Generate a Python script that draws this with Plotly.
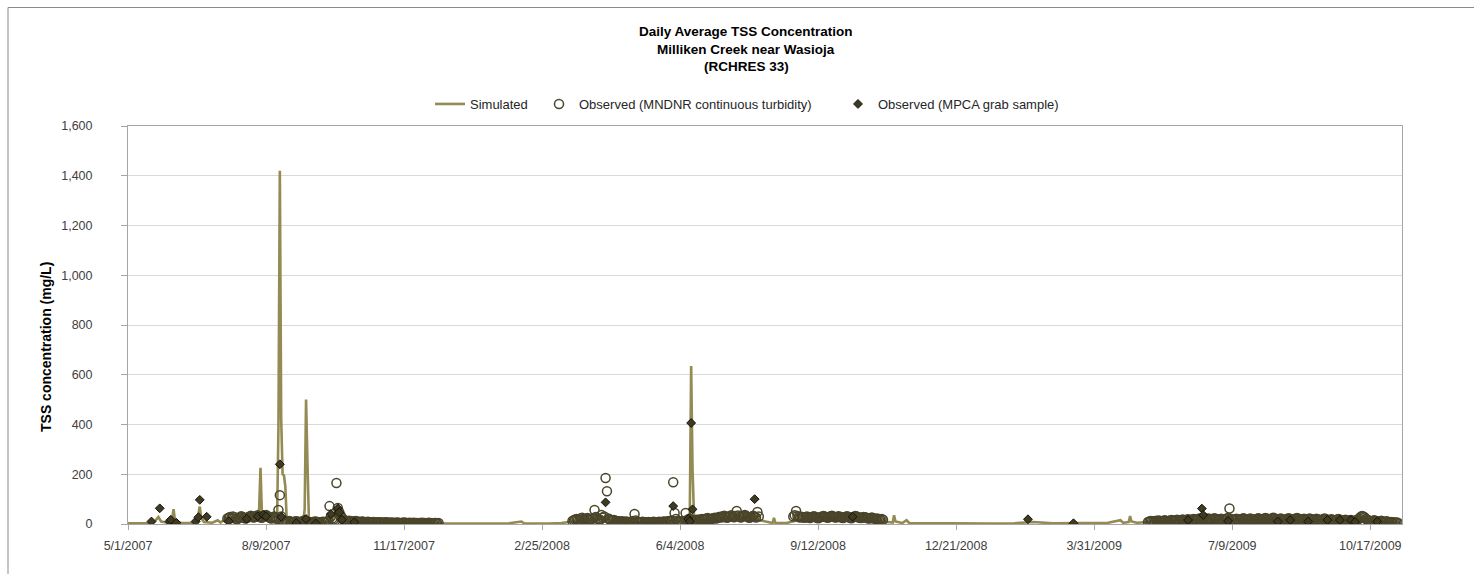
import plotly.graph_objects as go
import pandas as pd

# ---------------- data ----------------
sim_dates = [
    "2007-05-01", "2007-05-10", "2007-05-15", "2007-05-20", "2007-05-23", "2007-05-25", "2007-05-30",
    "2007-06-02", "2007-06-03", "2007-06-04", "2007-06-08", "2007-06-15", "2007-06-20", "2007-06-22",
    "2007-06-23", "2007-06-25", "2007-07-01", "2007-07-05", "2007-07-07", "2007-07-10", "2007-07-15",
    "2007-07-20", "2007-07-25", "2007-07-30", "2007-08-03", "2007-08-04", "2007-08-05", "2007-08-06",
    "2007-08-07", "2007-08-12", "2007-08-17", "2007-08-18", "2007-08-19", "2007-08-20", "2007-08-21",
    "2007-08-22", "2007-08-23", "2007-08-24", "2007-08-28", "2007-09-01", "2007-09-05", "2007-09-06",
    "2007-09-07", "2007-09-08", "2007-09-09", "2007-09-10", "2007-09-20", "2007-09-26", "2007-09-28",
    "2007-09-30", "2007-10-05", "2007-10-15", "2007-11-01", "2007-12-01", "2007-12-20",
    "2008-01-15", "2008-02-01", "2008-02-10", "2008-02-12", "2008-03-01", "2008-03-10", "2008-03-18",
    "2008-04-01", "2008-04-11", "2008-04-20", "2008-05-15", "2008-05-30", "2008-06-05", "2008-06-10",
    "2008-06-11", "2008-06-12", "2008-06-13", "2008-06-14", "2008-06-15", "2008-06-25", "2008-07-10",
    "2008-07-25", "2008-08-05", "2008-08-10", "2008-08-11", "2008-08-12", "2008-08-20", "2008-09-01",
    "2008-09-15", "2008-10-01", "2008-10-20", "2008-10-30", "2008-11-05", "2008-11-06", "2008-11-07",
    "2008-11-12", "2008-11-15", "2008-11-17", "2008-12-01", "2008-12-21",
    "2009-01-15", "2009-02-01", "2009-02-15", "2009-03-01", "2009-03-20", "2009-04-10", "2009-04-19",
    "2009-04-21", "2009-04-25", "2009-04-26", "2009-04-27", "2009-05-01", "2009-05-09", "2009-06-01",
    "2009-07-01", "2009-08-01", "2009-09-01", "2009-10-01", "2009-10-12", "2009-10-20", "2009-11-06",
]
sim_values = [
    3, 4, 3, 8, 28, 10, 5,
    20, 60, 15, 5, 4, 10, 70,
    25, 8, 5, 15, 6, 18, 25,
    30, 28, 35, 30, 60, 226, 40,
    20, 15, 10, 390, 1420, 420, 200,
    195, 150, 15, 8, 6, 8, 60,
    500, 250, 30, 8, 6, 10, 40,
    25, 10, 6, 4, 3, 2,
    2, 3, 10, 3, 2, 4, 10,
    12, 25, 6, 5, 15, 8, 15,
    30, 635, 220, 40, 12, 15, 20,
    25, 10, 4, 25, 5, 4, 20,
    25, 22, 15, 8, 6, 35, 10,
    4, 15, 4, 3, 2,
    2, 3, 8, 3, 4, 5, 15,
    5, 8, 32, 10, 5, 8, 12,
    15, 18, 14, 12, 25, 10, 5,
]

# MNDNR continuous turbidity (daily), four deployment periods
cont_start_2007 = "2007-07-12"
cont_values_2007 = [
    22, 25, 28, 24, 30, 27, 21, 19, 23, 26, 31, 28, 25, 22, 24, 27, 29, 33, 30, 26,
    28, 31, 35, 30, 27, 25, 29, 33, 36, 32, 28, 24, 22, 26, 30, 25, 20,
    56, 116,
    30, 14, 11, 9, 8, 10, 12, 9, 7, 8, 10, 11,
    9, 8, 7, 10, 12, 15, 11, 9, 8, 7, 6, 8, 9, 10, 8, 7, 6, 7, 9, 8, 7, 10, 12,
    72, 30, 22, 18, 14, 165, 64, 48, 35,
    25, 18, 14, 12, 11, 13, 12, 10, 9, 11, 12, 10, 9, 8, 9, 10, 8, 7, 8, 9, 7, 6, 7, 8, 7, 6, 6, 7, 6,
    6, 5, 6, 7, 6, 5, 5, 6, 5, 4, 5, 6, 5, 4, 4, 5, 6, 5, 4, 4, 5, 4, 4, 5, 4, 4, 3, 4, 4, 5,
    4, 4, 3, 4, 5, 4, 3, 3, 4, 4, 3, 4,
]
cont_start_2008a = "2008-03-18"
cont_values_2008a = [
    12, 15, 18, 20, 16, 14, 22, 25, 19, 17, 21, 24, 18, 16,
    20, 24, 56, 28, 22, 19, 17, 36, 25, 30, 185, 132, 22, 18, 15, 14, 16, 13, 12, 11,
    10, 9, 11, 8, 9, 10, 8, 7, 9, 8,
    12, 40, 14, 9, 8, 7, 8, 9, 7, 6, 7, 8, 6, 7, 8, 9, 7, 6, 8, 9, 7, 8, 10, 9, 8, 11, 12, 10,
    14, 168, 44, 20, 12, 10, 9, 11, 10, 12, 44, 15, 18, 22, 16, 12, 14,
    15, 17, 14, 18, 16, 20, 19, 17, 22, 24, 20, 18, 21, 23, 25, 22,
    24, 28, 26, 30, 27, 33, 29, 25, 28, 31, 35, 30, 27, 32, 52, 34, 29, 26, 30, 33, 36, 31, 28, 25,
    27, 30, 33, 29, 26, 48, 30,
]
cont_start_2008b = "2008-08-25"
cont_values_2008b = [
    30, 35, 52, 32, 28, 26, 29,
    27, 25, 28, 30, 26, 24, 27, 29, 31, 28, 25, 23, 26, 28, 30, 32, 29, 27, 25, 28, 31, 33, 30, 27,
    26, 29, 31, 28, 26, 24,
    27, 29, 31, 28, 25, 23, 26, 29, 32, 30, 27, 25, 24, 26, 28, 27, 25, 23, 22, 24, 26, 23, 21, 20,
    22, 19, 18, 20, 17,
]
cont_start_2009 = "2009-05-09"
cont_values_2009 = [
    8, 10, 12, 11, 9, 10, 13, 12, 14, 11, 10, 12, 15, 13, 11, 12, 14, 16, 13, 12, 15, 17, 14,
    13, 15, 18, 16, 14, 17, 19, 16, 15, 18, 20, 17, 16, 19, 22, 20, 18, 21, 24, 20, 18, 22, 19, 17,
    20, 23, 21, 18, 16, 19,
    21, 18, 16, 19, 22, 24, 62, 20, 17, 15, 18, 21, 19, 16, 18, 20, 23, 21, 18, 16, 19, 22, 20, 17,
    15, 18, 21, 23, 20, 17, 19,
    21, 24, 22, 19, 17, 20, 23, 25, 21, 18, 16, 19, 22, 20, 17, 15, 18, 21, 23, 20, 18, 16, 19, 22,
    24, 21, 18, 16, 19, 21, 18,
    16, 19, 22, 20, 17, 15, 18, 21, 19, 16, 14, 17, 20, 22, 19, 16, 14, 17, 19, 16, 13, 15, 18, 20,
    17, 14, 12, 15, 17, 14,
    12, 14, 16, 13, 11, 13, 15, 18, 22, 28, 32, 30, 26, 20, 16, 14, 12, 10, 13, 15, 12, 10, 9, 11,
    13, 10, 8, 9, 11, 8, 7,
    8, 6, 7, 5, 6, 5,
]

# MPCA grab samples
grab_dates = [
    "2007-05-18", "2007-05-24", "2007-05-31", "2007-06-01", "2007-06-05", "2007-06-19", "2007-06-22",
    "2007-06-21", "2007-06-27", "2007-07-13", "2007-07-26", "2007-08-03", "2007-08-07", "2007-08-09",
    "2007-08-19", "2007-08-20", "2007-08-31", "2007-09-07", "2007-09-14", "2007-09-25", "2007-09-30",
    "2007-10-01", "2007-10-03", "2007-10-12",
    "2008-04-11", "2008-05-30", "2008-06-10", "2008-06-11", "2008-06-12", "2008-06-13", "2008-07-28",
    "2008-10-07",
    "2009-02-11", "2009-03-16", "2009-06-07", "2009-06-17", "2009-06-18", "2009-07-06", "2009-08-11",
    "2009-08-20", "2009-09-02", "2009-09-16", "2009-09-25", "2009-10-03", "2009-10-06", "2009-10-22",
]
grab_values = [
    10, 63, 10, 17, 5, 10, 97,
    27, 29, 11, 21, 31, 37, 31,
    240, 29, 4, 20, 2, 40, 63,
    47, 17, 7,
    87, 72, 20, 11, 406, 59, 100,
    29,
    19, 3, 16, 62, 36, 12, 10,
    16, 10, 16, 16, 16, 8, 10,
]

x_tick_dates = ["2007-05-01", "2007-08-09", "2007-11-17", "2008-02-25", "2008-06-04",
                "2008-09-12", "2008-12-21", "2009-03-31", "2009-07-09", "2009-10-17"]
x_tick_labels = ["5/1/2007", "8/9/2007", "11/17/2007", "2/25/2008", "6/4/2008",
                 "9/12/2008", "12/21/2008", "3/31/2009", "7/9/2009", "10/17/2009"]
y_tick_values = [0, 200, 400, 600, 800, 1000, 1200, 1400, 1600]

title_lines = ["Daily Average TSS Concentration", "Milliken Creek near Wasioja", "(RCHRES 33)"]
y_title = "TSS concentration (mg/L)"

# ---------------- build ----------------
def daily(start, values):
    return pd.date_range(start, periods=len(values), freq="D")

cont_x = []
cont_y = []
for s, v in [(cont_start_2007, cont_values_2007), (cont_start_2008a, cont_values_2008a),
             (cont_start_2008b, cont_values_2008b), (cont_start_2009, cont_values_2009)]:
    cont_x.extend(list(daily(s, v)))
    cont_y.extend(v)

FONT = "Liberation Sans, Arial, sans-serif"
SIM_COLOR = "#948A54"
OBS_COLOR = "#4A452A"

W, H = 1474, 574
L, R, T, B = 128, 1402, 126, 524
pw, ph = R - L, B - T

def px(xp):
    return (xp - L) / pw

def py(yp):
    return (B - yp) / ph

fig = go.Figure()
fig.add_trace(go.Scatter(
    x=pd.to_datetime(sim_dates), y=sim_values, mode="lines", name="Simulated",
    line=dict(color=SIM_COLOR, width=2.6), legendwidth=64,
))
fig.add_trace(go.Scatter(
    x=cont_x, y=cont_y, mode="markers", name="Observed (MNDNR continuous turbidity)",
    marker=dict(symbol="circle-open", size=9, color=OBS_COLOR, line=dict(width=1.5, color=OBS_COLOR)),
    legendwidth=254,
))
fig.add_trace(go.Scatter(
    x=pd.to_datetime(grab_dates), y=grab_values, mode="markers", name="Observed (MPCA grab sample)",
    marker=dict(symbol="diamond", size=6.8, color="#3F3A22", line=dict(width=1, color="#15140c")),
    legendwidth=200,
))

annotations = []
for txt, yy in zip(title_lines, [31, 49, 66]):
    annotations.append(dict(text="<b>%s</b>" % txt, xref="paper", yref="paper", x=px(746), y=py(yy),
                            xanchor="center", yanchor="middle", showarrow=False,
                            font=dict(family=FONT, size=13.5, color="#000000")))
annotations.append(dict(text="<b>%s</b>" % y_title, xref="paper", yref="paper", x=px(46), y=py(347),
                        xanchor="center", yanchor="middle", textangle=-90, showarrow=False,
                        font=dict(family=FONT, size=14, color="#000000")))

fig.update_layout(
    width=W, height=H,
    margin=dict(l=L, r=W - R, t=T, b=H - B, pad=0, autoexpand=False),
    paper_bgcolor="white", plot_bgcolor="white",
    font=dict(family=FONT, size=12.5, color="#404040"),
    showlegend=True,
    legend=dict(orientation="h", xref="paper", yref="paper", x=px(430), y=py(104),
                xanchor="left", yanchor="middle", font=dict(family=FONT, size=13, color="#262626"),
                bgcolor="rgba(0,0,0,0)", borderwidth=0, itemwidth=30, tracegroupgap=0),
    annotations=annotations,
    shapes=[dict(type="rect", xref="paper", yref="paper", x0=px(8), x1=px(1490), y0=py(590), y1=py(7.5),
                 line=dict(color="#8a8a8a", width=1), fillcolor="rgba(0,0,0,0)", layer="below")],
    xaxis=dict(type="date", range=["2007-05-01", "2009-11-09"], tickvals=pd.to_datetime(x_tick_dates),
               ticktext=x_tick_labels, showgrid=False, showline=True, linecolor="#a6a6a6", linewidth=1,
               mirror=True, ticks="outside", ticklen=5, tickcolor="#a6a6a6", zeroline=False,
               tickfont=dict(family=FONT, size=12.5, color="#404040"), ticklabelstandoff=5),
    yaxis=dict(range=[0, 1600], tickvals=y_tick_values, tickformat=",", showgrid=True,
               gridcolor="#d9d9d9", gridwidth=1, showline=True, linecolor="#a6a6a6", linewidth=1,
               mirror=True, ticks="outside", ticklen=6, tickcolor="#a6a6a6", zeroline=False,
               tickfont=dict(family=FONT, size=12.5, color="#404040"), ticklabelstandoff=26),
)

fig.write_html("out.html", config={"displayModeBar": False},
               post_script="document.body.style.margin='0px';")
